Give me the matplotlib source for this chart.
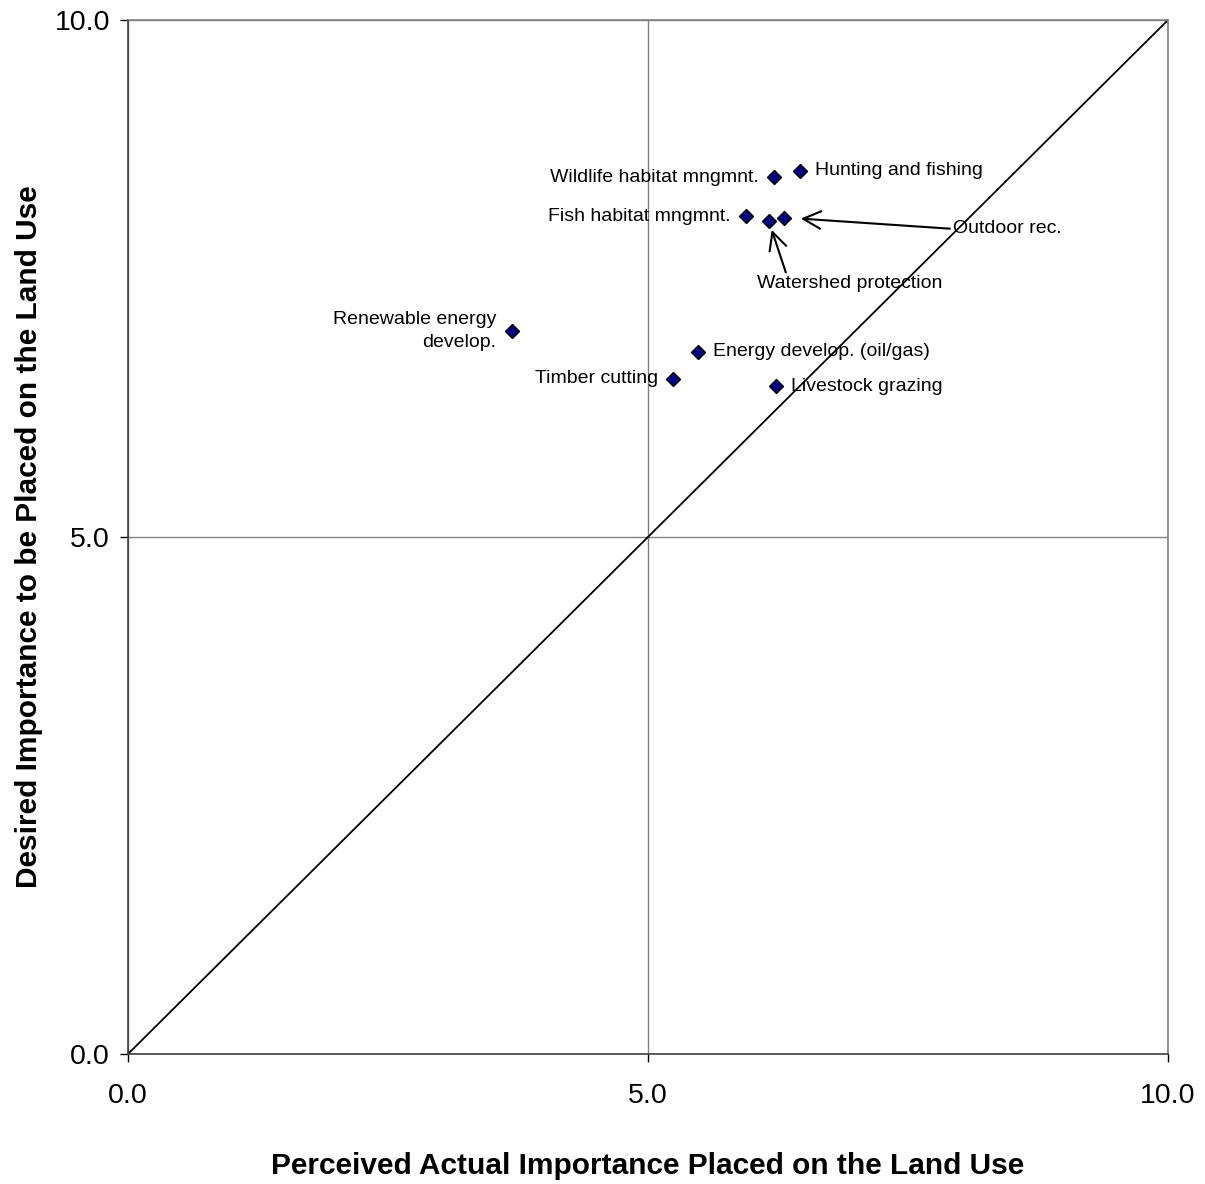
import numpy as np
import matplotlib
matplotlib.use("Agg")
import matplotlib.pyplot as plt

plt.rcParams['font.family'] = ['Liberation Sans', 'DejaVu Sans']

# land uses: perceived actual (x) vs desired (y) importance
uses = ["Hunting and fishing", "Wildlife habitat mngmnt.", "Fish habitat mngmnt.",
        "Watershed protection", "Outdoor rec.", "Renewable energy\ndevelop.",
        "Energy develop. (oil/gas)", "Timber cutting", "Livestock grazing"]
actual = [6.46, 6.21, 5.94, 6.16, 6.31, 3.69, 5.48, 5.24, 6.23]
desired = [8.54, 8.48, 8.10, 8.06, 8.09, 6.99, 6.79, 6.53, 6.46]

fig = plt.figure(figsize=(12.05, 11.84), dpi=100)
ax = fig.add_axes([0.1062, 0.1098, 0.8631, 0.8733])

# 1:1 reference line
ax.plot([0, 10], [0, 10], color='black', lw=1.3, zorder=2)

ax.plot(actual, desired, 'D', color='#000080', mec='black', mew=1.0, ms=7.5,
        zorder=4, clip_on=False)

ax.set_xlim(0, 10)
ax.set_ylim(0, 10)
ax.set_xticks([0, 5, 10])
ax.set_yticks([0, 5, 10])
ax.set_xticklabels(["0.0", "5.0", "10.0"])
ax.set_yticklabels(["0.0", "5.0", "10.0"])
ax.tick_params(labelsize=20.5, length=6, width=1, direction='out')
ax.tick_params(axis='x', pad=15)
ax.tick_params(axis='y', pad=7)
ax.grid(True, color='#808080', lw=1)
ax.set_axisbelow(True)
for s in ['top', 'right']:
    ax.spines[s].set_color('#808080')
for s in ['left', 'bottom']:
    ax.spines[s].set_color('#404040')
for s in ax.spines.values():
    s.set_linewidth(1.2)

ax.set_xlabel("Perceived Actual Importance Placed on the Land Use",
              fontsize=21.5, fontweight='bold', labelpad=31)
ax.set_ylabel("Desired Importance to be Placed on the Land Use",
              fontsize=21.5, fontweight='bold', labelpad=8)

fs = 14
# simple labels: (index, offset in points, ha)
simple = [(0, (11, 0), 'left'), (1, (-11, 0), 'right'), (2, (-11, 0), 'right'),
          (5, (-11, 0), 'right'), (6, (11, 0), 'left'), (7, (-11, 0), 'right'),
          (8, (11, 0), 'left')]
for i, off, ha in simple:
    ax.annotate(uses[i], (actual[i], desired[i]), xytext=off,
                textcoords='offset points', ha=ha, va='center', fontsize=fs,
                multialignment='right', linespacing=1.5)

# arrowed labels
arrow = dict(arrowstyle='->, head_length=0.9, head_width=0.45', color='black',
             lw=1.5, shrinkA=0, shrinkB=12)
ax.annotate(uses[4], (actual[4], desired[4]), xytext=(7.93, 7.98),
            ha='left', va='center', fontsize=fs,
            arrowprops=dict(arrow, relpos=(0.0, 0.5)))
ax.annotate(uses[3], (actual[3], desired[3]), xytext=(6.94, 7.45),
            ha='center', va='center', fontsize=fs,
            arrowprops=dict(arrow, relpos=(0.16, 1.0), shrinkB=7))

fig.savefig("out.png", dpi=100)
